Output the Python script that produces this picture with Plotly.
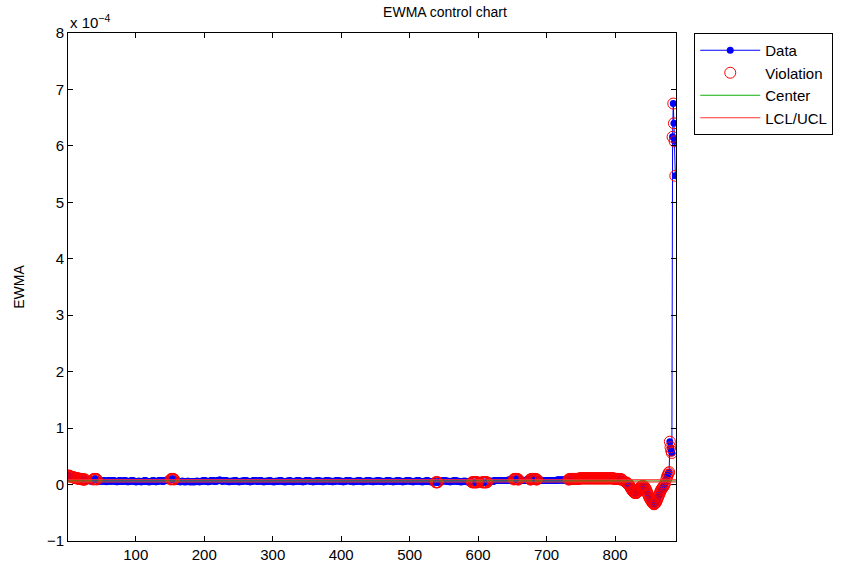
import plotly.graph_objects as go

# EWMA values in units of 1e-6, observations 1..888
seg_start = [16, 16, 15, 15, 14, 14, 13, 13, 13, 12, 12, 12, 11, 11, 11, 11, 10, 10, 10, 10,
             10, 9, 9, 9, 9, 9, 8, 8, 7, 7]
seg_mid = [
    8, 7, 7, 6, 7, 7, 8, 9, 10, 10,
    10, 10, 9, 8, 7, 7, 6, 6, 7, 7,
    6, 6, 7, 7, 6, 6, 5, 6, 6, 7,
    7, 7, 6, 6, 6, 7, 7, 7, 6, 6,
    6, 5, 5, 6, 6, 7, 7, 6, 6, 6,
    6, 6, 7, 7, 7, 6, 6, 5, 5, 6,
    6, 6, 6, 7, 7, 7, 6, 6, 5, 5,
    5, 5, 6, 6, 6, 6, 5, 5, 5, 6,
    6, 6, 7, 7, 6, 6, 6, 5, 5, 5,
    5, 6, 6, 6, 7, 7, 6, 6, 5, 5,
    6, 6, 6, 7, 7, 7, 7, 6, 6, 6,
    6, 7, 7, 7, 8, 8, 7, 7, 8, 8,
    9, 10, 10, 10, 10, 9, 8, 7, 7, 6,
    6, 6, 6, 5, 5, 5, 6, 6, 6, 5,
    5, 5, 5, 5, 6, 6, 6, 5, 5, 5,
    5, 5, 5, 5, 5, 5, 5, 6, 6, 6,
    6, 5, 5, 5, 6, 6, 6, 6, 7, 7,
    7, 6, 6, 6, 5, 5, 6, 6, 6, 7,
    7, 7, 7, 6, 6, 6, 6, 6, 7, 7,
    7, 8, 8, 7, 7, 6, 6, 6, 7, 7,
    7, 7, 6, 6, 6, 5, 5, 6, 6, 6,
    6, 6, 6, 7, 7, 7, 6, 6, 6, 5,
    5, 5, 6, 6, 6, 6, 6, 7, 7, 7,
    7, 6, 6, 6, 6, 5, 5, 5, 6, 6,
    6, 7, 7, 7, 7, 6, 6, 6, 6, 6,
    7, 7, 7, 6, 6, 5, 5, 5, 6, 6,
    6, 6, 6, 6, 7, 7, 6, 6, 6, 5,
    5, 5, 5, 6, 6, 6, 6, 6, 6, 7,
    7, 7, 6, 6, 6, 5, 5, 5, 5, 6,
    6, 6, 6, 7, 7, 6, 6, 6, 5, 5,
    5, 6, 6, 6, 6, 7, 7, 7, 6, 6,
    6, 6, 5, 5, 5, 6, 6, 6, 7, 7,
    7, 7, 7, 6, 6, 6, 6, 5, 5, 5,
    6, 6, 6, 6, 7, 7, 7, 6, 6, 6,
    6, 6, 5, 5, 6, 6, 6, 7, 7, 7,
    7, 6, 6, 6, 6, 6, 5, 5, 6, 6,
    6, 6, 7, 7, 7, 7, 6, 6, 6, 6,
    6, 5, 5, 5, 6, 6, 6, 7, 7, 7,
    7, 7, 6, 6, 6, 6, 5, 5, 5, 6,
    6, 6, 6, 6, 7, 7, 7, 6, 6, 6,
    5, 5, 5, 6, 6, 6, 6, 7, 7, 7,
    7, 6, 6, 6, 6, 5, 5, 6, 6, 6,
    6, 6, 7, 7, 7, 6, 6, 6, 6, 6,
    5, 5, 5, 6, 6, 6, 7, 7, 7, 7,
    6, 6, 6, 6, 5, 5, 5, 6, 6, 6,
    6, 7, 7, 7, 6, 6, 6, 6, 5, 5,
    5, 6, 6, 6, 6, 7, 7, 7, 7, 6,
    6, 6, 6, 5, 5, 5, 6, 6, 6, 6,
    7, 7, 7, 6, 6, 6, 5, 5, 5, 5,
    6, 6, 6, 6, 7, 7, 6, 6, 6, 5,
    5, 5, 5, 5, 5, 5, 5, 4, 4, 4,
    4, 5, 5, 5, 6, 6, 6, 6, 7, 7,
    7, 7, 6, 6, 6, 6, 6, 5, 5, 5,
    6, 6, 6, 6, 7, 7, 7, 6, 6, 6,
    6, 6, 5, 5, 5, 5, 5, 6, 6, 6,
    6, 6, 5, 5, 5, 5, 5, 5, 5, 5,
    4, 4, 4, 4, 4, 4, 4, 4, 4, 5,
    5, 5, 5, 5, 5, 4, 4, 4, 4, 4,
    4, 4, 4, 5, 5, 5, 6, 6, 6, 6,
    6, 6, 6, 7, 7, 7, 7, 7, 7, 7,
    7, 7, 7, 7, 7, 7, 7, 7, 7, 7,
    7, 7, 7, 8, 8, 8, 8, 8, 8, 8,
    8, 9, 10, 10, 10, 10, 10, 9, 9, 8,
    8, 8, 8, 7, 7, 7, 7, 7, 7, 8,
    8, 8, 8, 8, 8, 9, 9, 10, 10, 10,
    10, 10, 10, 10, 9, 9, 8, 8, 8, 8,
    8, 8, 7, 7, 7, 7, 7, 7, 7, 7,
    7, 7, 7, 7, 7, 7, 7, 7, 7, 7,
    7, 7, 7, 7, 8, 8, 8, 8, 8, 8,
    8, 8, 8, 8, 8, 8, 8, 8, 8, 8,
    8, 9, 9, 10, 10, 10, 10, 10, 10, 10,
    10, 10, 10, 10, 10, 10, 10, 11, 11, 11,
    11, 11, 11, 11, 11, 11, 11, 11, 11, 11,
    11, 11, 11, 11, 11, 11, 11, 11, 11, 11,
    11, 11, 11, 11, 11, 11, 11, 11, 11, 11,
    11, 11, 11, 11, 11, 11, 11, 11, 11, 11,
    11, 11, 11, 11, 11, 11, 11, 11, 10, 10,
]
seg_end = [
    10, 10, 10, 10, 10, 10, 10, 9, 9, 9,
    8, 8, 7, 6, 5, 4, 3, 2, 1, 0,
    -2, -4, -6, -8, -10, -12, -13, -14, -15, -15,
    -15, -14, -13, -11, -9, -7, -5, -4, -3, -3,
    -3, -3, -4, -6, -8, -11, -14, -17, -20, -23,
    -25, -27, -29, -31, -33, -34, -35, -34, -33, -31,
    -28, -25, -22, -19, -16, -13, -10, -8, -6, -5,
    -3, -1, 2, 6, 10, 14, 17, 20, 22, 76,
    66, 60, 56, 616, 675, 640, 608, 547,
]
ewma_e6 = seg_start + seg_mid + seg_end

center_e6 = 6.4
ucl_e6 = 8.6
lcl_e6 = 4.5

y_ticks = [-1, 0, 1, 2, 3, 4, 5, 6, 7, 8]
x_ticks = [100, 200, 300, 400, 500, 600, 700, 800]

scale = 1e-6
obs = list(range(1, len(ewma_e6) + 1))
y = [v * scale for v in ewma_e6]
viol_x = [i for i, v in zip(obs, ewma_e6) if v > ucl_e6 or v < lcl_e6]
viol_y = [v * scale for v in ewma_e6 if v > ucl_e6 or v < lcl_e6]
x_end = len(obs) + 1

font = "Liberation Sans, Arial, Helvetica, sans-serif"

fig = go.Figure()
fig.add_trace(go.Scatter(x=obs, y=y, mode="lines+markers", name="Data",
                         line=dict(color="#0000ff", width=1),
                         marker=dict(color="#0000ff", size=7)))
fig.add_trace(go.Scatter(x=viol_x, y=viol_y, mode="markers", name="Violation",
                         marker=dict(symbol="circle-open", color="#ff0000", size=11,
                                     line=dict(width=1, color="#ff0000"))))
fig.add_trace(go.Scatter(x=[1, x_end], y=[center_e6 * scale] * 2, mode="lines", name="Center",
                         line=dict(color="#10b010", width=1)))
fig.add_trace(go.Scatter(x=[1, x_end, None, 1, x_end],
                         y=[ucl_e6 * scale, ucl_e6 * scale, None, lcl_e6 * scale, lcl_e6 * scale],
                         mode="lines", name="LCL/UCL",
                         line=dict(color="#ff3030", width=1)))

axis_common = dict(showline=True, linecolor="black", linewidth=1, mirror="allticks",
                   ticks="inside", ticklen=5, tickcolor="black", showgrid=False,
                   zeroline=False, automargin=False,
                   tickfont=dict(family=font, size=15, color="black"))

fig.update_xaxes(range=[1, x_end], tickvals=x_ticks, ticktext=[str(t) for t in x_ticks],
                 **axis_common)
fig.update_yaxes(range=[-1e-4, 8e-4], tickvals=[t * 1e-4 for t in y_ticks],
                 ticktext=[("\u2212" + str(-t)) if t < 0 else str(t) for t in y_ticks],
                 title=dict(text="EWMA", font=dict(family=font, size=14, color="black"),
                            standoff=18),
                 **axis_common)

fig.update_layout(
    width=854, height=564,
    margin=dict(l=68, r=178, t=33, b=23, pad=0, autoexpand=False),
    paper_bgcolor="white", plot_bgcolor="white",
    title=dict(text="EWMA control chart", xref="container", x=0.521, xanchor="center",
               yref="container", y=0.979, yanchor="middle", automargin=False,
               font=dict(family=font, size=14, color="black")),
    legend=dict(x=1.03, xanchor="left", y=1.0, yanchor="top",
                bordercolor="black", borderwidth=1, bgcolor="white",
                font=dict(family=font, size=15, color="black"),
                itemwidth=60, tracegroupgap=0),
    annotations=[dict(text="x 10<sup>\u22124</sup>", xref="paper", yref="paper",
                      x=0.0, y=1.0, xanchor="left", yanchor="bottom", showarrow=False,
                      yshift=0, font=dict(family=font, size=15, color="black"))],
    showlegend=True,
)

fig.write_html("out.html", config={"displayModeBar": False},
               post_script="document.body.style.margin='0px';document.body.style.overflow='hidden';")
